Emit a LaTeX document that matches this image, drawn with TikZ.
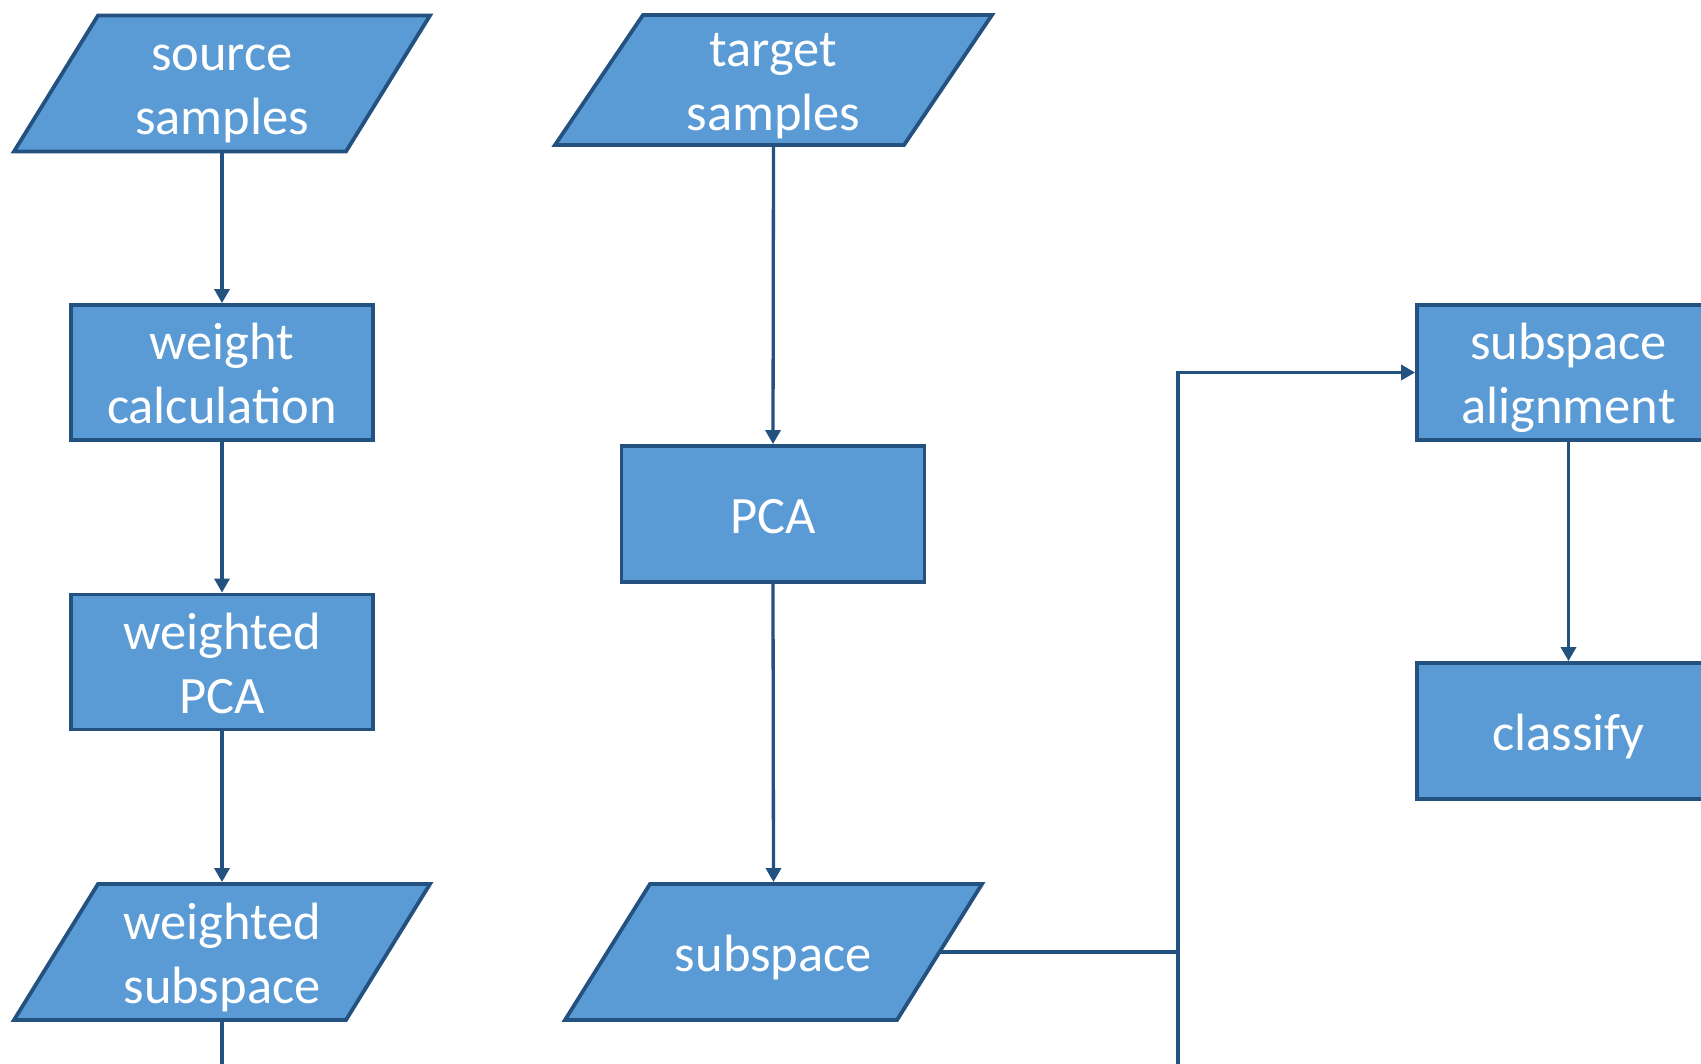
\documentclass[tikz,border=0pt]{standalone}
\usepackage{fontspec}
\setmainfont{Carlito}
\usetikzlibrary{calc,arrows.meta}
\definecolor{boxfill}{HTML}{5B9BD5}
\definecolor{boxline}{HTML}{245280}
\pgfdeclarelayer{bg}
\pgfsetlayers{bg,main}
\newcommand\ls{\rule[-13pt]{0pt}{64pt}}
\newcommand\drawpara[2]{%
  \begin{pgfonlayer}{bg}
    \draw[parashape] ($(#1.north west)+(#2,0)$) -- (#1.north east) -- ($(#1.south east)+(-#2,0)$) -- (#1.south west) -- cycle;
  \end{pgfonlayer}}
\begin{document}
\begin{tikzpicture}[x=1pt,y=-1pt,
  txt/.style={text=white,align=center,inner sep=0pt,font=\fontsize{52.5}{64}\selectfont},
  proc/.style={txt,rectangle,draw=boxline,fill=boxfill,line width=3.8pt,minimum width=302pt,minimum height=135pt},
  io/.style={txt,rectangle,outer sep=0pt,minimum width=416pt,minimum height=136pt},
  parashape/.style={draw=boxline,fill=boxfill,line width=3.8pt,line join=miter},
  conn/.style={draw=boxline,line width=3.3pt},
  arr/.style={conn,-{Triangle[length=14pt,width=15pt]}}]
\useasboundingbox (0,0) rectangle (1701,1064);
\clip (0,0) rectangle (1701,1064);
% left column
\node[io] (src) at (222,83.5) {\ls source\\\ls samples};
\drawpara{src}{84}
\node[proc] (wc) at (222,372.5) {\ls weight\\\ls calculation};
\node[proc] (wpca) at (222,662) {\ls weighted\\\ls PCA};
\node[io] (wsub) at (222,952) {\ls weighted\\\ls subspace};
\drawpara{wsub}{84}
\coordinate (wbot) at (222,1090);
% middle column
\node[io,minimum width=437pt,minimum height=130pt] (tgt) at (773.5,80) {\ls target\\\ls samples};
\drawpara{tgt}{88}
\node[proc,minimum width=303pt,minimum height=136pt] (pca) at (773,514) {\ls PCA};
\node[io,minimum width=417pt,minimum height=136pt] (sub) at (773.5,952) {\ls subspace};
\drawpara{sub}{85}
\coordinate (subr) at ($(sub.east)+(-42.5,0)$);
% right column
\node[proc,minimum width=303pt] (al) at (1568.5,372.5) {\ls subspace\\\ls alignment};
\node[proc,minimum width=303pt,minimum height=136pt] (cl) at (1568.5,731) {\ls classify};
\coordinate (bus) at (1178,1090);
% connectors
\draw[arr] (src.south) -- (wc.north);
\draw[arr] (wc.south) -- (wpca.north);
\draw[arr,shorten >=1.9pt] (wpca.south) -- (wsub.north);
\draw[conn] (wsub.south) -- (wbot);
\draw[arr] (tgt.south) -- (pca.north);
\draw[arr,shorten >=1.9pt] (pca.south) -- (sub.north);
\draw[conn] (subr) -- (subr -| bus);
\draw[arr] (bus) |- (al.west);
\draw[arr] (al.south) -- (cl.north);
\end{tikzpicture}
\end{document}
